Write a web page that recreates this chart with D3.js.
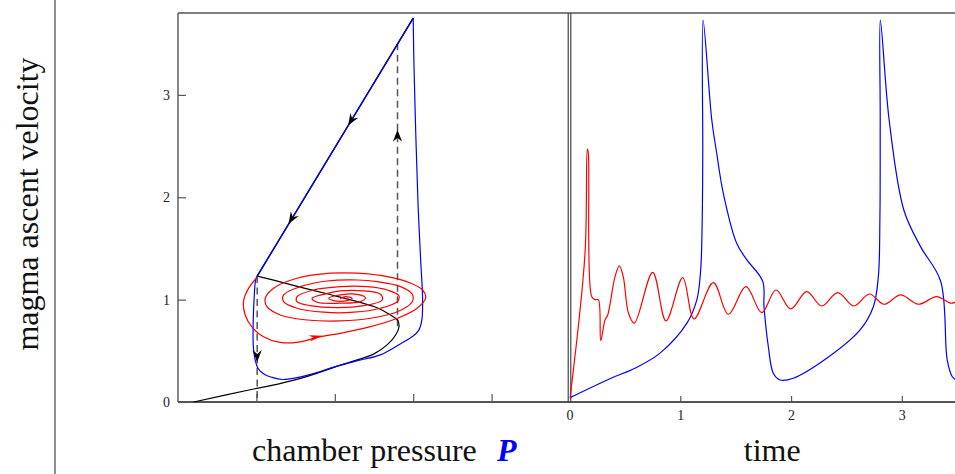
<!DOCTYPE html>
<html>
<head>
<meta charset="utf-8">
<script src="https://cdn.jsdelivr.net/npm/d3@7"></script>
<style>
  html, body { margin: 0; padding: 0; background: #fff; }
  svg { display: block; font-family: "Liberation Serif", "Times New Roman", serif; }
</style>
</head>
<body>
<svg id="chart" width="955" height="474"></svg>
<script>
// ---- data -------------------------------------------------------------
// tick values
const velocityTicks = [0, 1, 2, 3];
const pressureTicks = [1, 2, 3, 4];
const timeTicks = [0, 1, 2, 3];

// S-shaped nullcline (pressure, velocity): lower and middle branch
const nullclineS = [
  [0.20, 0.00], [0.92, 0.12], [1.30, 0.18], [1.65, 0.25], [2.07, 0.36],
  [2.50, 0.47], [2.67, 0.56], [2.78, 0.66], [2.82, 0.74], [2.80, 0.80],
  [2.71, 0.85], [2.54, 0.92], [2.29, 0.98], [1.94, 1.05], [1.52, 1.13],
  [1.22, 1.19], [1.01, 1.23]
];
// upper (straight) branch of the nullcline
const nullclineUpper = [[1.01, 1.23], [3.00, 3.75]];

// relaxation cycle: from the top of the upper branch back to the knee
const cycleBlue = [
  [3.00, 3.75], [3.01, 3.28], [3.06, 1.97], [3.095, 1.39], [3.12, 1.00],
  [3.11, 0.80], [3.07, 0.70], [2.99, 0.64], [2.84, 0.57], [2.58, 0.46],
  [2.33, 0.41], [2.03, 0.35], [1.69, 0.27], [1.50, 0.235], [1.33, 0.22],
  [1.20, 0.24], [1.10, 0.27], [1.02, 0.33], [0.985, 0.41], [0.96, 0.55],
  [0.96, 0.80], [0.97, 1.00], [0.99, 1.19], [1.01, 1.23]
];

// damped trajectory spiralling into the fixed point
const spiralRed = [
  [1.01, 1.22], [0.90, 1.11], [0.835, 0.98], [0.857, 0.85], [0.94, 0.736],
  [1.09, 0.638], [1.30, 0.583], [1.52, 0.583], [1.82, 0.638], [2.07, 0.671],
  [2.455, 0.736], [2.80, 0.818], [3.05, 0.916], [3.16, 1.019], [3.12, 1.094],
  [2.97, 1.16], [2.67, 1.224], [2.285, 1.258], [1.944, 1.258], [1.518, 1.209],
  [1.219, 1.111], [1.113, 1.013], [1.134, 0.931], [1.304, 0.85], [1.646, 0.801],
  [2.072, 0.792], [2.455, 0.818], [2.797, 0.882], [2.988, 0.98], [2.988, 1.052],
  [2.839, 1.127], [2.541, 1.176], [2.285, 1.192], [1.902, 1.182], [1.56, 1.127],
  [1.347, 1.046], [1.347, 0.98], [1.518, 0.916], [1.858, 0.877], [2.242, 0.877],
  [2.583, 0.916], [2.797, 0.98], [2.817, 1.039], [2.669, 1.094], [2.413, 1.127],
  [2.072, 1.127], [1.73, 1.094], [1.518, 1.029], [1.518, 0.98], [1.688, 0.941],
  [2.029, 0.922], [2.37, 0.941], [2.605, 0.997], [2.583, 1.052], [2.37, 1.085],
  [2.072, 1.085], [1.858, 1.052], [1.71, 1.013], [1.774, 0.974], [2.072, 0.965],
  [2.327, 0.98], [2.391, 1.019], [2.285, 1.052], [2.072, 1.046], [1.922, 1.013],
  [1.986, 0.99], [2.157, 0.99], [2.221, 1.013], [2.136, 1.029], [2.07, 1.01]
];

// fast jumps (dashed): pressure and velocity range
const jumpLeft = [[1.01, 1.23], [1.01, 0.00]];
const jumpRight = [[2.80, 0.74], [2.80, 3.50]];

// direction arrows: position (P, v) and direction (dP, dv)
const arrowsBlack = [
  { p: 2.17, v: 2.70, dp: -1.99, dv: -2.52 },
  { p: 1.41, v: 1.74, dp: -1.99, dv: -2.52 },
  { p: 2.80, v: 2.66, dp: 0, dv: 1 },
  { p: 1.01, v: 0.39, dp: 0, dv: -1 }
];
const arrowsRed = [
  { p: 1.84, v: 0.648, dp: 1, dv: 0.16 }
];

// time series (time, velocity)
const timeBlue = [
  [0.00, 0.04], [0.37, 0.23], [0.59, 0.33], [0.82, 0.48], [1.06, 0.77],
  [1.15, 1.00], [1.184, 1.29], [1.198, 1.78], [1.203, 2.43], [1.206, 3.73],
  [1.284, 2.76], [1.329, 2.43], [1.388, 2.04], [1.509, 1.55], [1.60, 1.39],
  [1.744, 1.18], [1.756, 0.93], [1.795, 0.54], [1.84, 0.28], [1.90, 0.215],
  [2.02, 0.232], [2.322, 0.427], [2.623, 0.704], [2.743, 0.931], [2.788, 1.224],
  [2.802, 1.78], [2.805, 2.76], [2.806, 3.73], [2.885, 2.76], [3.018, 1.876],
  [3.169, 1.518], [3.35, 1.182], [3.41, 0.41], [3.456, 0.247], [3.49, 0.215]
];
const timeRed = [
  [0.005, 0.04], [0.14, 1.45], [0.161, 2.47], [0.17, 2.43], [0.20, 1.03],
  [0.23, 1.00], [0.26, 1.00], [0.282, 0.60], [0.32, 0.80], [0.345, 0.85],
  [0.41, 1.22], [0.45, 1.33], [0.486, 1.22], [0.532, 0.87], [0.585, 0.77],
  [0.751, 1.267], [0.871, 0.792], [1.022, 1.215], [1.124, 0.811], [1.298, 1.166],
  [1.434, 0.857], [1.593, 1.127], [1.735, 0.873], [1.864, 1.094], [1.997, 0.909],
  [2.141, 1.078], [2.277, 0.938], [2.421, 1.068], [2.568, 0.938], [2.707, 1.055],
  [2.839, 0.955], [2.99, 1.046], [3.149, 0.955], [3.315, 1.029], [3.441, 0.965],
  [3.49, 0.98]
];

// ---- layout ---------------------------------------------------------------
const svg = d3.select("#chart");
const plotTop = 13, plotBottom = 402;
const y = d3.scaleLinear().domain([0, 3.8]).range([plotBottom, plotTop]);
const xP = d3.scaleLinear().domain([0, 5]).range([178, 570]);
const xT = d3.scaleLinear().domain([0, 3.48]).range([569.5, 955]);

const frameColor = "#555";

// separator on the far left
svg.append("line")
  .attr("x1", 55).attr("x2", 55).attr("y1", 0).attr("y2", 474)
  .attr("stroke", "#444").attr("stroke-width", 1.2);

// ---- axes ---------------------------------------------------------------
const yAxis = d3.axisLeft(y).tickValues(velocityTicks).tickSize(-8).tickPadding(8)
  .tickFormat(d3.format("d"));
const gY = svg.append("g").attr("transform", `translate(${xP(0)},0)`).call(yAxis);

const pAxis = d3.axisBottom(xP).tickValues(pressureTicks).tickSize(-8).tickFormat("");
const gP = svg.append("g").attr("transform", `translate(0,${plotBottom})`).call(pAxis);

const tAxis = d3.axisBottom(xT).tickValues(timeTicks).tickSize(-6).tickPadding(8)
  .tickFormat(d3.format("d"));
const gT = svg.append("g").attr("transform", `translate(0,${plotBottom})`).call(tAxis);

[gY, gP, gT].forEach(g => {
  g.select(".domain").remove();
  g.selectAll(".tick line").attr("stroke", frameColor).attr("stroke-width", 1.2);
  g.selectAll(".tick text").attr("font-family", "Liberation Serif, serif")
    .attr("font-size", 14).attr("fill", "#222");
});
gT.selectAll(".tick").filter(d => d === 0).select("line").remove();

// frame
const frame = svg.append("g").attr("stroke", frameColor).attr("fill", "none");
frame.append("line").attr("x1", xP(0)).attr("x2", 955).attr("y1", plotTop).attr("y2", plotTop)
  .attr("stroke-width", 1.5);
frame.append("line").attr("x1", xP(0)).attr("x2", 955).attr("y1", plotBottom).attr("y2", plotBottom)
  .attr("stroke-width", 1.8);
frame.append("line").attr("x1", xP(0)).attr("x2", xP(0)).attr("y1", plotTop).attr("y2", plotBottom)
  .attr("stroke-width", 1.4);
[-1.3, 1.3].forEach(o => {
  frame.append("line").attr("x1", xT(0) + o).attr("x2", xT(0) + o)
    .attr("y1", plotTop).attr("y2", plotBottom).attr("stroke", "#333").attr("stroke-width", 1.1);
});

// ---- phase plane -----------------------------------------------------------
const lineP = d3.line().x(d => xP(d[0])).y(d => y(d[1]));
const curveP = d3.line().x(d => xP(d[0])).y(d => y(d[1])).curve(d3.curveCatmullRom.alpha(0.5));

const phase = svg.append("g").attr("fill", "none");

// dashed fast jumps
[jumpLeft, jumpRight].forEach(seg => {
  phase.append("path").attr("d", lineP(seg))
    .attr("stroke", "#555").attr("stroke-width", 1.5).attr("stroke-dasharray", "7,4.5");
});

phase.append("path").attr("d", curveP(nullclineS)).attr("stroke", "#000").attr("stroke-width", 1.2);
phase.append("path").attr("d", lineP(nullclineUpper)).attr("stroke", "#000").attr("stroke-width", 1.4);

phase.append("path").attr("d", lineP(nullclineUpper)).attr("stroke", "#0000ff").attr("stroke-width", 1.2);
phase.append("path").attr("d", curveP(cycleBlue)).attr("stroke", "#0000ff").attr("stroke-width", 1.2);

phase.append("path").attr("d", curveP(spiralRed)).attr("stroke", "#ff0000").attr("stroke-width", 1.2);

// arrowheads
function arrowShape(len, half, notch) {
  return `M0,0L${-len},${-half}L${-len + notch},0L${-len},${half}Z`;
}
function placeArrows(list, color, len, half, notch) {
  svg.append("g").selectAll("path").data(list).join("path")
    .attr("d", arrowShape(len, half, notch))
    .attr("fill", color)
    .attr("transform", d => {
      const sx = xP(d.p), sy = y(d.v);
      const ex = xP(d.p + d.dp * 0.01), ey = y(d.v + d.dv * 0.01);
      const ang = Math.atan2(ey - sy, ex - sx) * 180 / Math.PI;
      return `translate(${sx},${sy}) rotate(${ang})`;
    });
}
placeArrows(arrowsBlack, "#000", 12, 4.6, 4);
placeArrows(arrowsRed, "#ff0000", 13, 3.2, 3.5);

// ---- time series -----------------------------------------------------------
svg.append("clipPath").attr("id", "tclip").append("rect")
  .attr("x", xT(0)).attr("y", 0).attr("width", 955 - xT(0)).attr("height", plotBottom);
const curveT = d3.line().x(d => xT(d[0])).y(d => y(d[1])).curve(d3.curveCatmullRom.alpha(0.5));
const ts = svg.append("g").attr("clip-path", "url(#tclip)").attr("fill", "none");
ts.append("path").attr("d", curveT(timeBlue)).attr("stroke", "#0000ff").attr("stroke-width", 1.2);
ts.append("path").attr("d", curveT(timeRed)).attr("stroke", "#ff0000").attr("stroke-width", 1.2);

// ---- titles -------------------------------------------------------------
svg.append("text")
  .attr("transform", "translate(38,204) rotate(-90)")
  .attr("text-anchor", "middle").attr("font-size", 32).attr("fill", "#111")
  .text("magma ascent velocity");

svg.append("text")
  .attr("x", 252).attr("y", 461).attr("font-size", 32).attr("fill", "#111")
  .text("chamber pressure");
svg.append("text")
  .attr("x", 497).attr("y", 461).attr("font-size", 32).attr("fill", "#0000ff")
  .attr("font-style", "italic").attr("font-weight", "bold")
  .text("P");

svg.append("text")
  .attr("x", (xT(0) + 955) / 2 + 10).attr("y", 461).attr("text-anchor", "middle")
  .attr("font-size", 32).attr("fill", "#111")
  .text("time");
</script>
</body>
</html>
